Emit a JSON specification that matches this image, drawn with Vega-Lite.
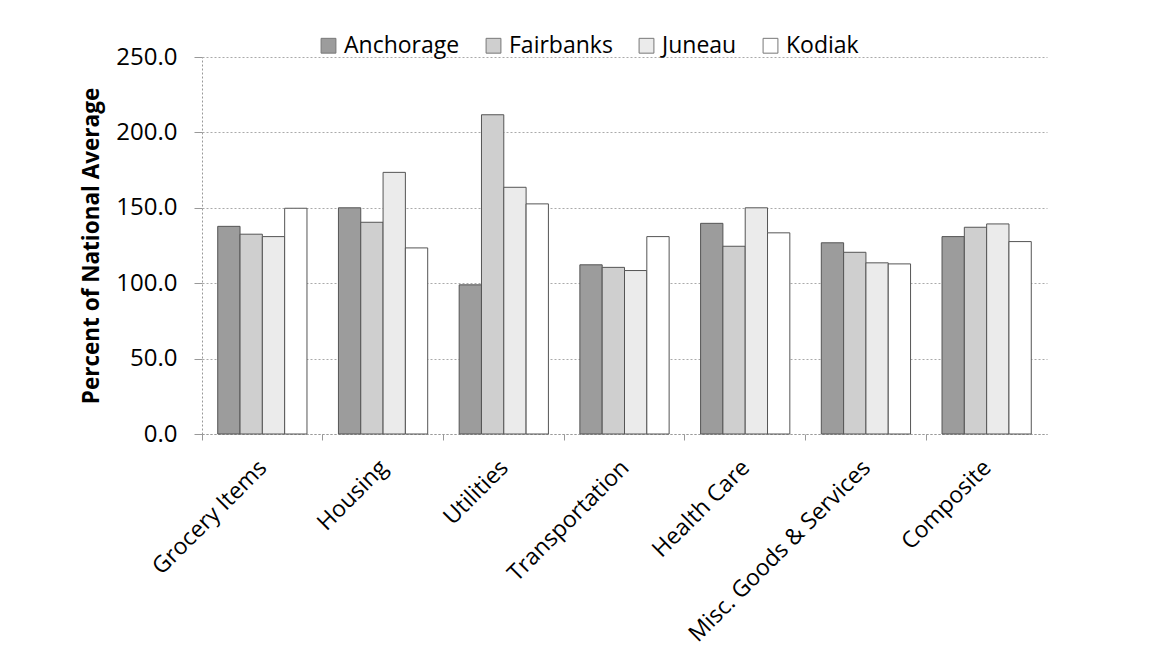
{
  "$schema": "https://vega.github.io/schema/vega-lite/v6.json",
  "autosize": "none",
  "width": 845,
  "height": 377,
  "padding": {"left": 202, "top": 57, "right": 104, "bottom": 224},
  "background": "white",
  "config": {
    "font": "Open Sans",
    "view": {"stroke": null},
    "axis": {"labelColor": "#000", "titleColor": "#000", "labelFont": "Open Sans", "titleFont": "Open Sans"},
    "legend": {"labelFont": "Open Sans"}
  },
  "data": {
    "values": [
      {"category": "Grocery Items", "city": "Anchorage", "value": 137.7},
      {"category": "Grocery Items", "city": "Fairbanks", "value": 132.5},
      {"category": "Grocery Items", "city": "Juneau", "value": 130.9},
      {"category": "Grocery Items", "city": "Kodiak", "value": 149.7},
      {"category": "Housing", "city": "Anchorage", "value": 150.0},
      {"category": "Housing", "city": "Fairbanks", "value": 140.4},
      {"category": "Housing", "city": "Juneau", "value": 173.5},
      {"category": "Housing", "city": "Kodiak", "value": 123.4},
      {"category": "Utilities", "city": "Anchorage", "value": 98.9},
      {"category": "Utilities", "city": "Fairbanks", "value": 211.7},
      {"category": "Utilities", "city": "Juneau", "value": 163.6},
      {"category": "Utilities", "city": "Kodiak", "value": 152.6},
      {"category": "Transportation", "city": "Anchorage", "value": 112.2},
      {"category": "Transportation", "city": "Fairbanks", "value": 110.5},
      {"category": "Transportation", "city": "Juneau", "value": 108.4},
      {"category": "Transportation", "city": "Kodiak", "value": 130.9},
      {"category": "Health Care", "city": "Anchorage", "value": 139.7},
      {"category": "Health Care", "city": "Fairbanks", "value": 124.5},
      {"category": "Health Care", "city": "Juneau", "value": 150.0},
      {"category": "Health Care", "city": "Kodiak", "value": 133.4},
      {"category": "Misc. Goods & Services", "city": "Anchorage", "value": 126.8},
      {"category": "Misc. Goods & Services", "city": "Fairbanks", "value": 120.5},
      {"category": "Misc. Goods & Services", "city": "Juneau", "value": 113.5},
      {"category": "Misc. Goods & Services", "city": "Kodiak", "value": 112.8},
      {"category": "Composite", "city": "Anchorage", "value": 130.9},
      {"category": "Composite", "city": "Fairbanks", "value": 137.1},
      {"category": "Composite", "city": "Juneau", "value": 139.3},
      {"category": "Composite", "city": "Kodiak", "value": 127.6}
    ]
  },
  "mark": {"type": "bar", "stroke": "#555555", "strokeWidth": 1},
  "encoding": {
    "x": {
      "field": "category",
      "type": "nominal",
      "sort": null,
      "scale": {"paddingInner": 0, "paddingOuter": 0},
      "axis": {
        "title": null,
        "labelAngle": -45,
        "labelFontSize": 23,
        "labelLimit": 400,
        "bandPosition": 0,
        "labelOffset": -7,
        "labelPadding": 16,
        "ticks": true,
        "tickSize": 6,
        "tickColor": "#999999",
        "domainColor": "#999999",
        "domainDash": [2, 2],
        "grid": false
      }
    },
    "xOffset": {"field": "city", "type": "nominal", "scale": {"paddingInner": 0, "paddingOuter": 0.705}},
    "y": {
      "field": "value",
      "type": "quantitative",
      "scale": {"domain": [0, 250], "nice": false},
      "axis": {
        "title": "Percent of National Average",
        "titleFontSize": 22.5,
        "titleFontWeight": "bold",
        "titlePadding": 12,
        "values": [0, 50, 100, 150, 200, 250],
        "format": ".1f",
        "labelFontSize": 24,
        "labelPadding": 17,
        "tickSize": 8,
        "tickColor": "#999999",
        "domainColor": "#999999",
        "domainDash": [2, 2],
        "gridColor": "#aaaaaa",
        "gridDash": [2, 2],
        "gridWidth": 1
      }
    },
    "color": {
      "field": "city",
      "type": "nominal",
      "scale": {
        "domain": ["Anchorage", "Fairbanks", "Juneau", "Kodiak"],
        "range": ["#9c9c9c", "#cfcfcf", "#ebebeb", "#ffffff"]
      },
      "legend": {
        "title": null,
        "orient": "none",
        "direction": "horizontal",
        "legendX": 115,
        "legendY": -23,
        "labelFontSize": 23,
        "labelColor": "#000",
        "symbolType": "square",
        "symbolSize": 220,
        "symbolStrokeColor": "#777777",
        "symbolStrokeWidth": 1,
        "labelOffset": 4,
        "columnPadding": 22
      }
    }
  }
}
